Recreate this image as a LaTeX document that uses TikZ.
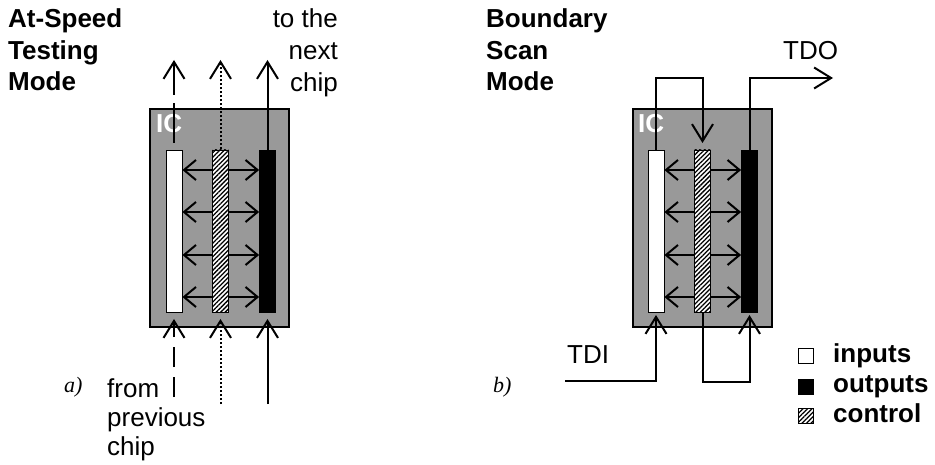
\documentclass[tikz,border=0pt]{standalone}
\usepackage{fontspec}
\setmainfont{Liberation Sans}
\newfontfamily\serifit{Liberation Serif}
\usetikzlibrary{arrows.meta,patterns.meta}
\definecolor{chipgray}{RGB}{153,153,153}
\begin{document}
\begin{tikzpicture}[x=1pt,y=-1pt,
  lw/.style={line width=2pt},
  bigarr/.style={-{Straight Barb[length=17pt,width=21pt]}},
  smallarr/.style={-{Straight Barb[length=12pt,width=20pt]}},
  chip/.style={draw=black,line width=2pt,fill=chipgray,inner sep=0pt,minimum width=139pt,minimum height=218pt},
  barbase/.style={draw=black,line width=0.8pt,inner sep=0pt,minimum width=16pt,minimum height=162pt},
  inbar/.style={barbase,fill=white},
  hatch/.style={preaction={fill=white},pattern={Lines[angle=45,distance=3.2pt,line width=1.3pt]}},
  ctlbar/.style={barbase,hatch},
  outbar/.style={barbase,fill=black},
  txt/.style={inner sep=0pt,font=\fontsize{26}{31}\selectfont},
  btxt/.style={inner sep=0pt,font=\fontsize{26}{31}\selectfont\bfseries},
  ictxt/.style={inner sep=0pt,text=white,font=\fontsize{26}{31}\selectfont\bfseries},
  lbl/.style={inner sep=0pt,font=\fontsize{22}{26}\selectfont\serifit\itshape},
  dashA/.style={dash pattern=on 40pt off 8pt},
  dashB/.style={dash pattern=on 20pt off 10pt},
  dotA/.style={dash pattern=on 2pt off 2pt},
  legbox/.style={draw=black,line width=0.8pt,inner sep=0pt,minimum size=15pt}
]
\useasboundingbox (0,0) rectangle (935,465);

% ---------------- Left diagram (a) ----------------
\node[chip] (chipA) at (219.5,218) {};
\node[ictxt,anchor=base west] (icA) at (156,133) {IC};
\node[inbar]  (inA)  at (174,231) {};
\node[ctlbar] (ctlA) at (220.5,231) {};
\node[outbar] (outA) at (267.5,231) {};

\foreach \yy in {170,212,255,297}{
  \draw[lw,smallarr] (ctlA.west |- 0,\yy) -- (inA.east |- 0,\yy);
  \draw[lw,smallarr] (ctlA.east |- 0,\yy) -- (outA.west |- 0,\yy);
}

\coordinate (aTopIn) at (174,143);
\coordinate (aUpIn) at (174,60);
\coordinate (aUpCtl) at (220.5,60);
\coordinate (aUpOut) at (267.5,60);
\draw[lw,dashA,bigarr] (aTopIn) -- (aUpIn);
\draw[lw,dotA,bigarr] (ctlA.north) -- (aUpCtl);
\draw[lw,bigarr] (outA.north) -- (aUpOut);

\coordinate (aLowIn) at (174,397);
\coordinate (aLowCtl) at (220.5,404);
\coordinate (aLowOut) at (267.5,404);
\coordinate (aTipIn) at (174,319);
\coordinate (aTipCtl) at (220.5,319);
\coordinate (aTipOut) at (267.5,319);
\draw[lw,dashB,bigarr] (aLowIn) -- (aTipIn);
\draw[lw,dotA,bigarr] (aLowCtl) -- (aTipCtl);
\draw[lw,bigarr] (aLowOut) -- (aTipOut);

\node[btxt,anchor=base west] (tA1) at (8,28) {At-Speed};
\node[btxt,anchor=base west] (tA2) at (8,59.5) {Testing};
\node[btxt,anchor=base west] (tA3) at (8,91) {Mode};

\node[txt,anchor=base east] (nx1) at (338,28) {to the};
\node[txt,anchor=base east] (nx2) at (338,60) {next};
\node[txt,anchor=base east] (nx3) at (338,92) {chip};

\node[txt,anchor=base west] (pv1) at (107,397) {from};
\node[txt,anchor=base west] (pv2) at (107,426) {previous};
\node[txt,anchor=base west] (pv3) at (107,455) {chip};

\node[lbl,anchor=base west] (labA) at (64,392) {a)};

% ---------------- Right diagram (b) ----------------
\node[chip] (chipB) at (702,218) {};
\node[ictxt,anchor=base west] (icB) at (638,133) {IC};
\node[inbar]  (inB)  at (656,231) {};
\node[ctlbar] (ctlB) at (702.5,231) {};
\node[outbar] (outB) at (749.5,231) {};

\foreach \yy in {170,212,255,297}{
  \draw[lw,smallarr] (ctlB.west |- 0,\yy) -- (inB.east |- 0,\yy);
  \draw[lw,smallarr] (ctlB.east |- 0,\yy) -- (outB.west |- 0,\yy);
}

\coordinate (loopT) at (702.5,78);
\coordinate (ctlTipB) at (702.5,143);
\draw[lw,bigarr] (inB.north) |- (loopT) -- (ctlTipB);

\coordinate (tdoEnd) at (833,78);
\draw[lw,bigarr] (outB.north) |- (tdoEnd);

\coordinate (tdiStart) at (565,381);
\coordinate (inTipB) at (656,315);
\draw[lw,bigarr] (tdiStart) -| (inTipB);

\coordinate (loopB) at (702.5,382);
\coordinate (outTipB) at (749.5,315);
\draw[lw,bigarr] (ctlB.south) -- (loopB) -| (outTipB);

\node[txt,anchor=base west] (tdo) at (783,60) {TDO};
\node[txt,anchor=base west] (tdi) at (567,363) {TDI};

\node[btxt,anchor=base west] (tB1) at (486,28) {Boundary};
\node[btxt,anchor=base west] (tB2) at (486,59.5) {Scan};
\node[btxt,anchor=base west] (tB3) at (486,91) {Mode};

\node[lbl,anchor=base west] (labB) at (493,392) {b)};

% ---------------- Legend ----------------
\node[legbox,fill=white] (lgIn) at (806,355.5) {};
\node[legbox,fill=black] (lgOut) at (806,386.5) {};
\node[legbox,hatch] (lgCtl) at (806,415.5) {};
\node[btxt,anchor=base west] (lgT1) at (833,362) {inputs};
\node[btxt,anchor=base west] (lgT2) at (833,392) {outputs};
\node[btxt,anchor=base west] (lgT3) at (833,422) {control};
\end{tikzpicture}
\end{document}
